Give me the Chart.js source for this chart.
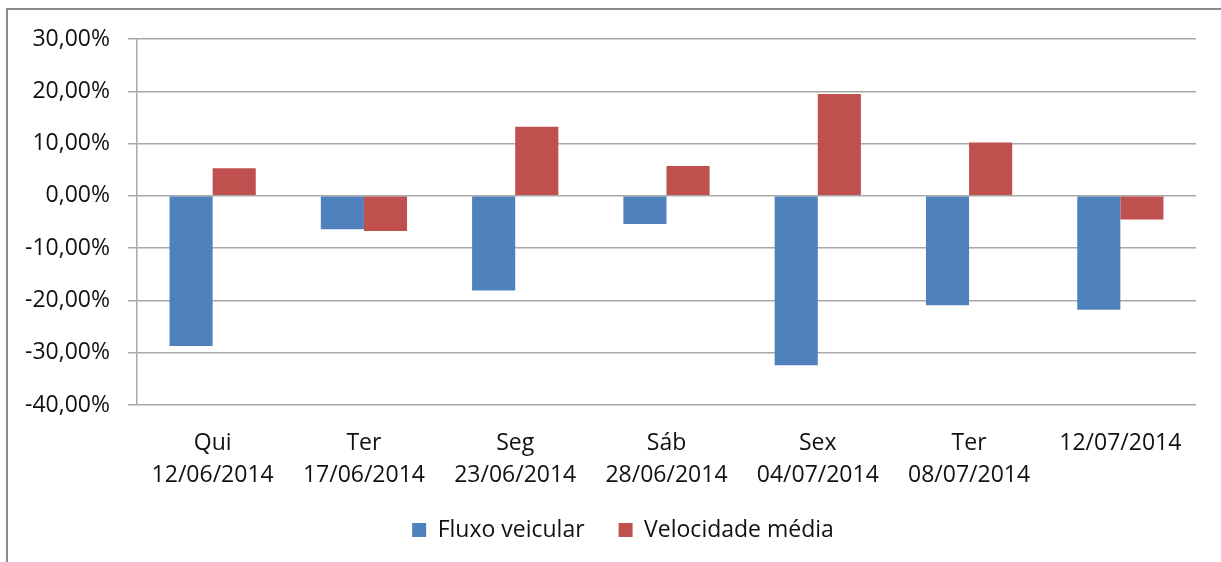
<!DOCTYPE html>
<html>
<head>
<meta charset="utf-8">
<script src="https://cdn.jsdelivr.net/npm/chart.js@4.4.1/dist/chart.umd.min.js"></script>
<style>
    body { margin: 0; background: #fff; }
    #wrap { position: relative; width: 1221px; height: 562px; overflow: hidden; }
    #frame { position: absolute; left: 6px; top: 8px; right: -10px; bottom: -10px;
             border-top: 2px solid #8c8c8c; border-left: 2px solid #8c8c8c; }
    canvas { position: absolute; left: 0; top: 0; }
</style>
</head>
<body>
<div id="wrap">
    <div id="frame"></div>
    <canvas id="chart" width="1221" height="562"></canvas>
</div>
<script>
const categories = [
    ['Qui', '12/06/2014'],
    ['Ter', '17/06/2014'],
    ['Seg', '23/06/2014'],
    ['Sáb', '28/06/2014'],
    ['Sex', '04/07/2014'],
    ['Ter', '08/07/2014'],
    '12/07/2014'
];
const fluxoVeicular = [-28.7, -6.4, -18.1, -5.4, -32.4, -20.9, -21.8];
const velocidadeMedia = [5.3, -6.7, 13.2, 5.7, 19.5, 10.2, -4.5];
const yMin = -40;
const yMax = 30;
const yStep = 10;

const fontFamily = "'Open Sans', 'Liberation Sans', sans-serif";
const textColor = '#111111';
const gridColor = '#a8a8a8';

function formatPct(v) {
    return v.toFixed(2).replace('.', ',') + '%';
}

// move the legend so it sits where the original one does
const legendShift = {
    id: 'legendShift',
    afterLayout(chart) {
        const lg = chart.legend;
        if (!lg) return;
        const dx = 25;
        lg.left += dx;
        lg.right += dx;
    }
};

const ctx = document.getElementById('chart').getContext('2d');
new Chart(ctx, {
    type: 'bar',
    data: {
        labels: categories,
        datasets: [
            {
                label: 'Fluxo veicular',
                data: fluxoVeicular,
                backgroundColor: '#4F81BD',
                categoryPercentage: 0.57,
                barPercentage: 1.0
            },
            {
                label: 'Velocidade média',
                data: velocidadeMedia,
                backgroundColor: '#C0504D',
                categoryPercentage: 0.57,
                barPercentage: 1.0
            }
        ]
    },
    options: {
        responsive: false,
        animation: false,
        layout: {
            padding: { left: 0, top: 39, right: 25, bottom: 10.5 }
        },
        plugins: {
            legend: {
                position: 'bottom',
                labels: {
                    boxWidth: 14,
                    boxHeight: 14,
                    padding: 34,
                    color: textColor,
                    font: { family: fontFamily, size: 23 }
                }
            },
            tooltip: { enabled: false }
        },
        scales: {
            x: {
                grid: { display: false, drawTicks: false },
                border: { display: false },
                ticks: {
                    color: textColor,
                    padding: 22,
                    maxRotation: 0,
                    autoSkip: false,
                    font: { family: fontFamily, size: 23, lineHeight: 1.39 }
                },
                afterFit: function(scale) {
                    scale.height = 79.5;
                }
            },
            y: {
                min: yMin,
                max: yMax,
                grid: {
                    color: gridColor,
                    lineWidth: 1.5,
                    tickLength: 9,
                    drawTicks: true
                },
                border: { display: true, color: gridColor, width: 1.5 },
                ticks: {
                    stepSize: yStep,
                    color: textColor,
                    padding: 18,
                    font: { family: fontFamily, size: 23 },
                    callback: function(value) {
                        return formatPct(value);
                    }
                },
                afterFit: function(scale) {
                    scale.width = 137;
                }
            }
        }
    },
    plugins: [legendShift]
});
</script>
</body>
</html>
